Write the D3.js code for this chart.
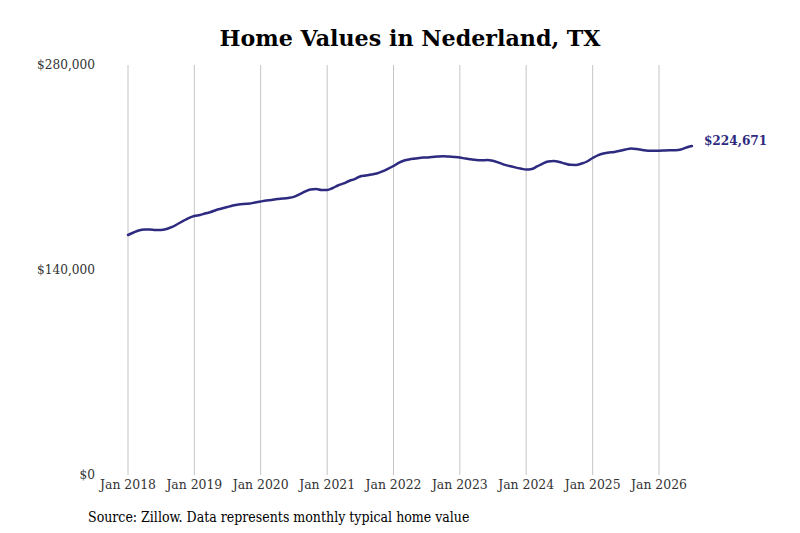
<!DOCTYPE html>
<html><head><meta charset="utf-8">
<script src="https://cdn.jsdelivr.net/npm/d3@7"></script>
<style>body{margin:0;background:#fff}</style>
</head><body><svg id="c" width="800" height="533"></svg>
<script>
const startYear = 2018, startMonth = 0;
const values = [163900,165600,167000,167700,167700,167300,167300,168000,169400,171400,173500,175500,
176900,177600,178600,179600,181000,182000,183000,184000,184700,185100,185400,186100,
186800,187500,187800,188500,188800,189200,189900,191600,193600,195000,195300,194600,
194600,196000,197700,199100,200800,202100,203900,204500,205200,205900,207300,209000,
211000,213400,214800,215600,216100,216700,216800,217200,217500,217700,217500,217200,
216800,216100,215600,215100,214900,215100,214600,213400,212000,211000,210100,209300,
208600,209000,210700,212700,214100,214400,213800,212700,211800,211700,212700,214100,
216500,218500,219600,220300,220600,221400,222300,223000,222600,222000,221500,221500,
221500,221600,221700,221800,222300,223700,224671];
const yTicks = [0,140000,280000];
const xTickYears = [2018,2019,2020,2021,2022,2023,2024,2025,2026];
const title = "Home Values in Nederland, TX";
const source = "Source: Zillow. Data represents monthly typical home value";

const data = values.map((v,i)=>({date:new Date(startYear, startMonth+i, 1), v}));
const svg = d3.select("#c");
const x = d3.scaleTime().domain([new Date(2018,0,1), new Date(2026,0,1)]).range([128,659]);
const y = d3.scaleLinear().domain([0,280000]).range([475,65]);
const serif = "'DejaVu Serif Condensed','DejaVu Serif',serif";

svg.append("text").attr("x",410).attr("y",46).attr("text-anchor","middle")
  .attr("font-family","'DejaVu Serif',serif").attr("font-weight","bold").attr("font-size",22.2)
  .attr("fill","#000").text(title);

const xt = xTickYears.map(yy=>new Date(yy,0,1));
svg.append("g").selectAll("line").data(xt).join("line")
  .attr("x1",d=>x(d)).attr("x2",d=>x(d)).attr("y1",y(280000)).attr("y2",y(0))
  .attr("stroke","#c4c4c4").attr("stroke-width",1);
svg.append("g").selectAll("text").data(xt).join("text")
  .attr("x",d=>x(d)).attr("y",489).attr("text-anchor","middle")
  .attr("font-family",serif).attr("font-size",13.8).attr("fill","#333")
  .text(d=>"Jan "+d.getFullYear());
const fmt = d3.format("$,");
svg.append("g").selectAll("text").data(yTicks).join("text")
  .attr("x",95).attr("y",d=>y(d)+4).attr("text-anchor","end")
  .attr("font-family",serif).attr("font-size",13.5).attr("fill","#333")
  .text(d=>fmt(d));

const line = d3.line().x(d=>x(d.date)).y(d=>y(d.v)).curve(d3.curveMonotoneX);
svg.append("path").datum(data).attr("d",line).attr("fill","none")
  .attr("stroke","#2e2a80").attr("stroke-width",2.5).attr("stroke-linecap","round");

const last = data[data.length-1];
svg.append("text").attr("x",x(last.date)+12).attr("y",y(last.v)-1)
  .attr("font-family",serif).attr("font-weight","bold").attr("font-size",13.5)
  .attr("fill","#2e2a80").text(fmt(last.v));

svg.append("text").attr("x",88).attr("y",522)
  .attr("font-family",serif).attr("font-size",14).attr("fill","#000").text(source);
</script></body></html>
